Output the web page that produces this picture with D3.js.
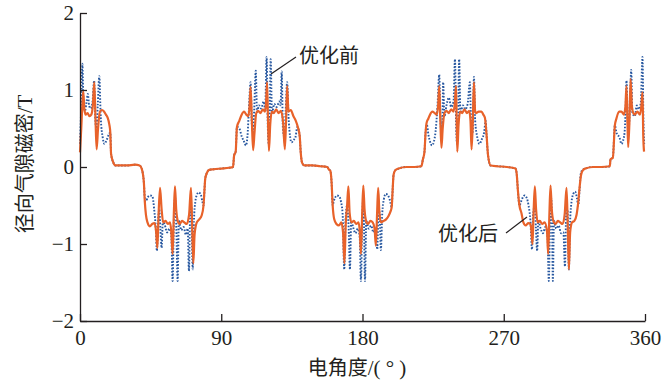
<!DOCTYPE html>
<html>
<head>
<meta charset="utf-8">
<script src="https://cdn.jsdelivr.net/npm/d3@7"></script>
<style>
  body { margin: 0; background: #fff; }
  text { fill: #231f20; }
</style>
</head>
<body>
<div id="container"></div>
<script>
// radial air-gap flux density, before / after optimisation  [angle (deg), B (T)]
const before = [
  [0, 0.3], [0.8, 0.8], [1.5, 1.34], [2.3, 0.78], [3.2, 0.73], [4.2, 0.85], [5, 0.95], [5.8, 0.8], [6.8, 0.76], [8, 0.85],
  [9, 1.12], [9.8, 0.6], [10.5, 0.5], [11.3, 0.8], [12.3, 1.18], [13.2, 0.65], [14.5, 0.38], [15.5, 0.3], [17, 0.35], [18.3, 0.42],
  [19.3, 0.45], [19.8, 0.17], [21.2, 0.06], [22.5, 0.02], [25, 0.02], [30, 0.02], [35, 0.03], [38, 0.02], [39.3, -0.02],
  [40, -0.08], [40.7, -0.2], [41.3, -0.4], [42, -0.45], [43, -0.4], [44.6, -0.37], [46.1, -0.38], [47.3, -0.56], [48.3, -0.8],
  [49, -1.09], [49.8, -0.7], [50.5, -0.55], [51.2, -0.8], [52, -1.05], [52.8, -0.7], [54, -0.75], [55.5, -0.85], [57, -0.8],
  [58.2, -0.9], [59, -1.48], [59.8, -0.7], [60.6, -0.4], [61.4, -0.8], [62.2, -1.48], [63, -0.7], [64.5, -0.82], [66, -0.78],
  [67.5, -0.88], [68.6, -0.8], [69.4, -1.35], [70.2, -0.6], [70.9, -0.5], [71.8, -1.33], [72.6, -0.7], [73.5, -0.45], [74.5, -0.36],
  [75.6, -0.33], [77, -0.36], [78, -0.45], [78.7, -0.5], [79.3, -0.3], [79.8, -0.15], [80.8, -0.08], [82, -0.04], [85, -0.03],
  [90, -0.02], [95, -0.01], [97.5, 0.0],
  [98.2, 0.15], [99.2, 0.2], [100, 0.52], [101.5, 0.5], [103, 0.4], [104.5, 0.33], [105.7, 0.28], [106.7, 0.4], [107.5, 0.7],
  [108.7, 1.1], [109.5, 0.55], [110.2, 0.45], [111, 0.75], [112, 1.25], [112.8, 0.7], [114, 0.8], [115.5, 0.76], [117, 0.85],
  [118, 0.75], [118.9, 1.43], [119.7, 0.5], [120.3, 0.3], [120.8, 0.6], [121.5, 1.4], [122.3, 0.7], [123.8, 0.82], [125.3, 0.78],
  [127, 0.85], [127.8, 0.8], [128.5, 1.24], [129.3, 0.5], [130.3, 0.38], [131, 0.7], [132, 1.1], [133, 0.6], [134.8, 0.32],
  [136, 0.35], [137.2, 0.38], [138.5, 0.52], [140, 0.4], [140.6, 0.2], [141.6, 0.05], [143, 0.02], [148, 0.02], [153, 0.01],
  [157.5, 0.0],
  [158.5, -0.03], [159.5, -0.05], [160.3, -0.2], [161, -0.5], [161.6, -0.45], [162.5, -0.4], [163.7, -0.37], [165, -0.38],
  [166.3, -0.45], [167.3, -0.6], [168.4, -1.33], [169.2, -0.7], [170.2, -0.5], [171.2, -0.8], [172, -1.33], [172.8, -0.7],
  [174, -0.78], [175.5, -0.86], [177, -0.8], [178.2, -0.9], [179, -1.48], [179.8, -0.7], [180.5, -0.4], [181, -0.8], [181.6, -1.48],
  [182.4, -0.7], [184, -0.8], [185.5, -0.76], [187, -0.85], [188.3, -0.8], [189.4, -1.07], [190.2, -0.55], [190.9, -0.6],
  [191.7, -1.08], [192.6, -0.6], [193.6, -0.42], [194.8, -0.35], [196, -0.36], [197.3, -0.42], [198.6, -0.52], [199.2, -0.3],
  [199.8, -0.1], [201, -0.04], [203, -0.02], [208, 0.0], [213, 0.0], [217.5, 0.01],
  [218.5, 0.1], [219.5, 0.2], [220.2, 0.45], [221, 0.55], [222, 0.42], [223, 0.33], [224.3, 0.28], [225.5, 0.33], [226.5, 0.45],
  [227.8, 0.8], [228.9, 1.2], [229.7, 0.6], [230.4, 0.45], [231, 0.7], [231.4, 1.1], [232.2, 0.65], [233.5, 0.8], [235, 0.9],
  [236.5, 0.78], [238, 0.85], [238.9, 1.4], [239.7, 0.5], [240.3, 0.3], [240.9, 0.6], [241.6, 1.4], [242.4, 0.7], [244, 0.8],
  [245.5, 0.75], [247, 0.82], [248.4, 1.1], [249.3, 0.5], [250.2, 0.45], [251, 1.17], [251.8, 0.6], [253, 0.4], [254.5, 0.3],
  [256, 0.36], [257.5, 0.45], [258.5, 0.6], [259, 0.43], [260, 0.15], [261.6, 0.02], [266, 0.01], [272, 0.0], [277.5, -0.02],
  [278.3, -0.1], [279, -0.3], [280, -0.5], [281, -0.45], [282, -0.4], [283.3, -0.37], [284.6, -0.4], [285.8, -0.5], [287, -0.7],
  [288, -1.07], [288.8, -0.6], [289.8, -0.5], [290.5, -0.8], [291.3, -1.09], [292, -0.7], [293.5, -0.8], [295, -0.86],
  [296.5, -0.78], [297.9, -0.9], [298.7, -1.48], [299.5, -0.7], [300.2, -0.4], [300.8, -0.8], [301.3, -1.48], [302, -0.7],
  [303.5, -0.8], [305, -0.76], [306.5, -0.86], [308, -0.85], [309, -1.29], [309.8, -0.6], [310.6, -0.55], [311.5, -1.33],
  [312.3, -0.7], [313.2, -0.45], [314.3, -0.35], [315.5, -0.32], [316.6, -0.4], [317.5, -0.5], [318.3, -0.3], [319, -0.1],
  [320, -0.04], [322, -0.02], [327, 0.0], [332, 0.0], [337.6, 0.01],
  [338, 0.1], [339.5, 0.12], [340.8, 0.54], [341.8, 0.45], [343.8, 0.38], [345, 0.3], [346, 0.34], [347, 0.45], [347.6, 0.7],
  [348.2, 1.12], [349, 0.6], [349.6, 0.5], [350.4, 0.8], [351.2, 1.26], [352, 0.7], [353.5, 0.66], [354.8, 0.8], [356, 0.75],
  [357.3, 0.83], [358.4, 1.43], [359, 0.6], [359.5, 0.3]
];

const after = [
  [0, 0.19], [0.8, 0.5], [1.6, 0.85], [2.1, 0.98], [2.8, 0.75], [3.6, 0.68], [4.8, 0.7], [6, 0.66], [7.2, 0.68], [8.2, 0.8],
  [9.1, 1.1], [9.9, 0.6], [10.6, 0.23], [11.5, 0.5], [12.7, 0.72], [14, 0.74], [15.3, 0.72], [16.5, 0.68], [17.6, 0.64],
  [18.7, 0.55], [19.3, 0.45], [19.8, 0.17], [21.2, 0.06], [22.5, 0.02], [25, 0.02], [30, 0.02], [35, 0.03], [38, 0.02], [39.3, -0.02],
  [40, -0.08], [40.7, -0.2], [41.3, -0.45], [42, -0.62], [43, -0.72], [44.5, -0.77], [46, -0.74], [47.5, -0.73], [48.4, -0.82],
  [49.3, -1.05], [50.1, -0.6], [51, -0.27], [52, -0.55], [53, -0.72], [54.5, -0.7], [56, -0.74], [57.4, -0.72], [58.2, -0.85],
  [59, -1.13], [59.8, -0.6], [60.5, -0.25], [61.3, -0.55], [62.3, -0.7], [63.5, -0.74], [65, -0.7], [66.5, -0.72], [68, -0.74],
  [69.5, -0.62], [70.7, -0.27], [71.4, -0.7], [72.2, -1.25], [73, -0.88], [74.4, -0.72], [76, -0.68], [77.5, -0.63], [78.7, -0.5],
  [79.3, -0.3], [79.8, -0.15], [80.8, -0.08], [82, -0.04], [85, -0.03], [90, -0.02], [95, -0.01], [97.5, 0.0],
  [98.2, 0.15], [99.2, 0.2], [100, 0.52], [101.5, 0.6], [103, 0.68], [104.5, 0.72], [106, 0.68], [107.3, 0.66], [108, 0.78],
  [108.7, 1.04], [109.5, 0.6], [110.3, 0.22], [111.2, 0.45], [112.3, 0.7], [113.5, 0.73], [115, 0.7], [116.5, 0.75], [117.8, 0.72],
  [118.5, 0.82], [119.2, 1.1], [119.8, 0.6], [120.4, 0.21], [121.2, 0.55], [122.2, 0.72], [123.5, 0.7], [125, 0.75], [126.5, 0.7],
  [128, 0.73], [129.4, 0.58], [130.5, 0.23], [131.3, 0.6], [132, 1.05], [132.8, 0.72], [134.3, 0.74], [136, 0.66], [137.5, 0.6],
  [138.8, 0.52], [140, 0.4], [140.6, 0.2], [141.6, 0.05], [143, 0.02], [148, 0.02], [153, 0.01], [157.5, 0.0],
  [158.5, -0.03], [159.5, -0.05], [160.3, -0.2], [161, -0.5], [162, -0.68], [163.4, -0.74], [165, -0.76], [166.5, -0.72],
  [167.6, -0.85], [168.5, -1.25], [169.3, -0.75], [170.2, -0.5], [171, -0.25], [171.8, -0.6], [173, -0.72], [174.5, -0.7],
  [176, -0.74], [177.5, -0.72], [178.3, -0.85], [179, -1.13], [179.8, -0.6], [180.5, -0.24], [181.3, -0.55], [182.3, -0.7],
  [183.5, -0.74], [185, -0.7], [186.5, -0.72], [187.7, -0.8], [188.5, -1.02], [189.3, -0.6], [190, -0.27], [190.8, -0.6],
  [191.8, -0.72], [193.5, -0.7], [195, -0.68], [196.5, -0.64], [197.8, -0.58], [198.6, -0.52], [199.2, -0.3], [199.8, -0.1],
  [201, -0.04], [203, -0.02], [208, 0.0], [213, 0.0], [217.5, 0.01],
  [218.5, 0.1], [219.5, 0.2], [220.2, 0.45], [220.8, 0.57], [222, 0.63], [223, 0.68], [224.5, 0.72], [226, 0.7], [227.3, 0.68],
  [228.2, 0.8], [228.9, 1.05], [229.6, 0.6], [230.3, 0.25], [231.1, 0.5], [232.2, 0.7], [233.5, 0.73], [235, 0.7], [236.5, 0.75],
  [238, 0.72], [238.9, 0.85], [239.6, 1.05], [240, 0.6], [240.4, 0.2], [241.2, 0.55], [242.2, 0.72], [243.5, 0.7], [245, 0.75],
  [246.5, 0.7], [248, 0.73], [248.8, 0.6], [249.5, 0.23], [250.3, 0.6], [251, 1.1], [251.8, 0.72], [252.6, 0.7], [254, 0.72],
  [255.8, 0.72], [257, 0.68], [258, 0.64], [259, 0.43], [260, 0.15], [261.6, 0.02], [266, 0.01], [272, 0.0], [277.5, -0.02],
  [278.3, -0.1], [279, -0.3], [280, -0.5], [281.3, -0.6], [282.5, -0.72], [284, -0.76], [285.5, -0.73], [287, -0.74],
  [287.6, -0.82], [288.3, -1.0], [289, -0.6], [289.8, -0.25], [290.6, -0.55], [291.6, -0.72], [293, -0.7], [294.5, -0.74],
  [296, -0.72], [297.5, -0.82], [298.3, -1.13], [299.1, -0.6], [299.8, -0.24], [300.6, -0.55], [301.6, -0.7], [303, -0.74],
  [304.5, -0.7], [306, -0.72], [307.5, -0.74], [308.8, -0.62], [310, -0.27], [310.7, -0.7], [311.5, -1.33], [312.3, -0.85],
  [313.5, -0.72], [315, -0.7], [316.4, -0.62], [317.5, -0.45], [318.3, -0.27], [319.3, -0.1], [320.5, -0.04], [322, -0.02],
  [327, 0.0], [332, 0.0], [337.6, 0.01],
  [338, 0.1], [339.5, 0.12], [340.8, 0.54], [341.8, 0.63], [343.5, 0.72], [345, 0.72], [346.5, 0.68], [347.5, 0.78],
  [348.2, 1.05], [348.8, 0.6], [349.3, 0.26], [350.1, 0.6], [350.8, 1.14], [351.6, 0.8], [352.2, 0.72], [353.6, 0.68],
  [355.1, 0.72], [356.8, 0.68], [357.8, 0.82], [358.4, 0.97], [358.9, 0.4], [359.4, 0.2]
];

const xTicks = [0, 90, 180, 270, 360];
const yTicks = [-2, -1, 0, 1, 2];

const width = 662, height = 384;
const margin = {top: 13, right: 17, bottom: 63, left: 80};
const serif = '"Liberation Serif", "Times New Roman", serif';
const cjk = '"Noto Sans CJK SC", "Noto Sans", sans-serif';

const svg = d3.select('#container')
  .append('svg')
  .attr('width', width)
  .attr('height', height);

let xScale = d3.scaleLinear().domain([0, 360]).range([margin.left, width - margin.right]);
let yScale = d3.scaleLinear().domain([-2, 2]).range([height - margin.bottom, margin.top]);

// curves: before (blue dotted) under after (orange)
const lineGenerator = d3.line()
  .x(d => xScale(d[0]))
  .y(d => yScale(d[1]))
  .curve(d3.curveMonotoneX);

svg.append('path')
  .attr('d', lineGenerator(before))
  .attr('fill', 'none')
  .attr('stroke', '#2858a0')
  .attr('stroke-width', 1.9)
  .attr('stroke-dasharray', '1.6,1.6');

svg.append('path')
  .attr('d', lineGenerator(after))
  .attr('fill', 'none')
  .attr('stroke', '#e8622a')
  .attr('stroke-width', 2.2)
  .attr('stroke-linejoin', 'round');

// axes, ticks inward
const xAxis = svg.append('g')
  .attr('transform', `translate(0,${yScale(-2)})`)
  .call(d3.axisBottom(xScale).tickValues(xTicks).tickSizeInner(-7).tickSizeOuter(0).tickPadding(9));

const yAxis = svg.append('g')
  .attr('transform', `translate(${xScale(0)},0)`)
  .call(d3.axisLeft(yScale).tickValues(yTicks).tickFormat(d3.format('d')).tickSizeInner(-7).tickSizeOuter(0).tickPadding(6));

[xAxis, yAxis].forEach(g => {
  g.select('.domain').attr('stroke', '#231f20').attr('stroke-width', 1.3);
  g.selectAll('.tick line').attr('stroke', '#231f20').attr('stroke-width', 1.3);
  g.selectAll('.tick text')
    .attr('fill', '#231f20')
    .style('font-family', serif)
    .style('font-size', '21px');
});

// axis titles
svg.append('text')
  .attr('x', 357)
  .attr('y', 375)
  .attr('text-anchor', 'middle')
  .style('font-family', cjk)
  .style('font-size', '20px')
  .call(t => {
    t.append('tspan').text('电角度');
    t.append('tspan').style('font-family', serif).style('font-size', '21px').text('/( ° )');
  });

svg.append('text')
  .attr('transform', 'translate(32,164) rotate(-90)')
  .attr('text-anchor', 'middle')
  .style('font-family', cjk)
  .style('font-size', '20px')
  .call(t => {
    t.append('tspan').text('径向气隙磁密');
    t.append('tspan').style('font-family', serif).style('font-size', '21px').text('/T');
  });

// annotations
svg.append('line')
  .attr('x1', 296).attr('y1', 57).attr('x2', 271).attr('y2', 74)
  .attr('stroke', '#231f20').attr('stroke-width', 1.2);
svg.append('text')
  .attr('x', 299).attr('y', 63)
  .style('font-family', cjk).style('font-size', '20px')
  .text('优化前');

svg.append('line')
  .attr('x1', 506).attr('y1', 233).attr('x2', 527).attr('y2', 217)
  .attr('stroke', '#231f20').attr('stroke-width', 1.2);
svg.append('text')
  .attr('x', 438).attr('y', 241)
  .style('font-family', cjk).style('font-size', '20px')
  .text('优化后');
</script>
</body>
</html>
